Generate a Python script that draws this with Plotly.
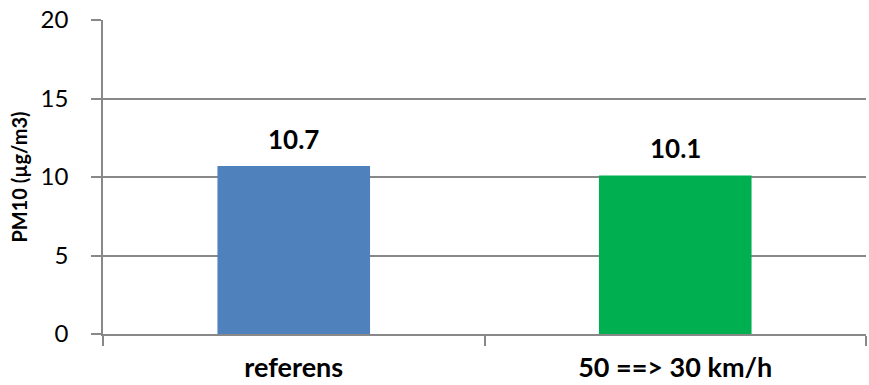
import plotly.graph_objects as go

categories = ["referens", "50 ==> 30 km/h"]
values = [10.7, 10.1]
bar_colors = ["#4F81BD", "#00B050"]
y_ticks = [0, 5, 10, 15, 20]

fig = go.Figure()
fig.add_trace(go.Bar(x=categories, y=values, marker=dict(color=bar_colors, line=dict(width=0)),
                     hoverinfo="skip"))

for c, v in zip(categories, values):
    fig.add_annotation(x=c, y=v, text=f"<b>{v}</b>", showarrow=False, yanchor="bottom",
                       yshift=9, font=dict(family="Lato", size=26, color="#000000"))

fig.update_layout(
    width=869, height=385,
    margin=dict(l=103, r=3, t=20, b=51),
    paper_bgcolor="white", plot_bgcolor="white",
    bargap=0.6, showlegend=False,
    font=dict(family="Lato", color="#000000"),
)
fig.update_xaxes(
    type="category", range=[-0.5, 1.5], tickson="boundaries", automargin=False,
    showline=True, linecolor="#888888", linewidth=1.5,
    ticks="outside", ticklen=10, tickcolor="#888888", tickwidth=1.5,
    tickfont=dict(family="Lato", size=27, color="#000000"),
    tickvals=categories, ticktext=[f"<b>{c}</b>" for c in categories],
    ticklabelstandoff=9, showgrid=False,
)
fig.update_yaxes(
    range=[0, 20], tickvals=y_ticks, ticktext=[str(t) for t in y_ticks], automargin=False,
    showline=True, linecolor="#888888", linewidth=1.5,
    ticks="outside", ticklen=10, tickcolor="#888888", tickwidth=1.5,
    showgrid=True, gridcolor="#888888", gridwidth=1.5, zeroline=False,
    tickfont=dict(family="Lato", size=24, color="#000000"),
    ticklabelstandoff=18,
    title=dict(text="<b>PM10 (µg/m3)</b>", font=dict(family="Lato", size=20, color="#000000"), standoff=8),
)
fig.write_html("out.html")
